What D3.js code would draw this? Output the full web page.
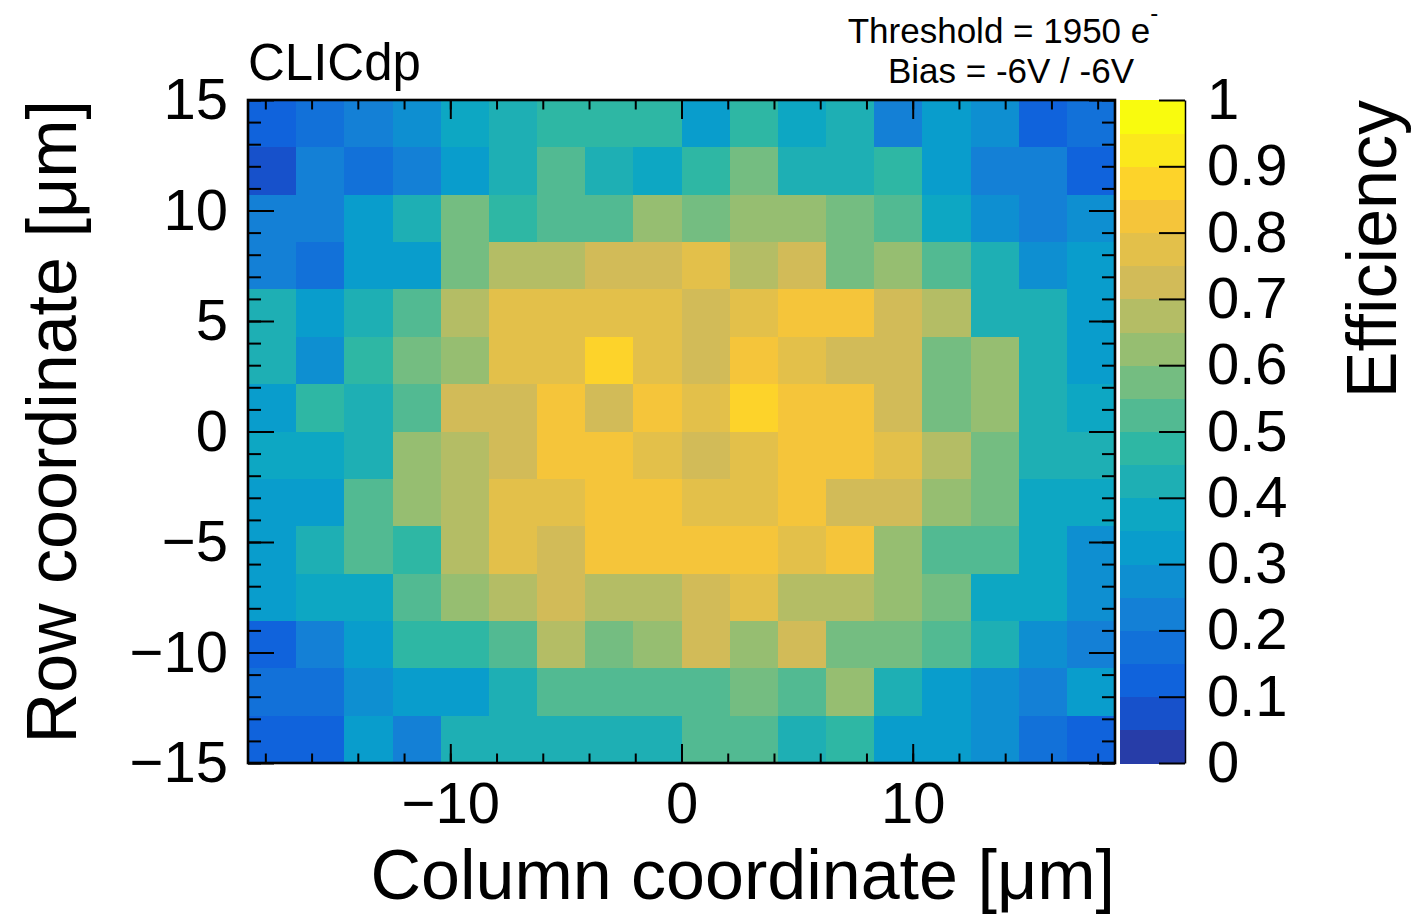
<!DOCTYPE html>
<html>
<head>
<meta charset="utf-8">
<script src="https://cdn.jsdelivr.net/npm/d3@7"></script>
<style>
  body { margin: 0; background: #fff; }
  text { font-family: "Liberation Sans", Arial, Helvetica, sans-serif; fill: #000; }
</style>
</head>
<body>
<svg id="chart" width="1411" height="915"></svg>
<script>
// Data
var colRange = [-18.75, 18.75];   // column coordinate [um], 18 bins
var rowRange = [-15, 15];         // row coordinate [um], 14 bins
var xTicks = [-10, 0, 10];
var xMinorTicks = [-18, -16, -14, -12, -10, -8, -6, -4, -2, 0, 2, 4, 6, 8, 10, 12, 14, 16, 18];
var yTicks = [-15, -10, -5, 0, 5, 10, 15];
var yMinorTicks = d3.range(-15, 16);
var zTicks = [0, 0.1, 0.2, 0.3, 0.4, 0.5, 0.6, 0.7, 0.8, 0.9, 1];
var zTickLabels = ["0", "0.1", "0.2", "0.3", "0.4", "0.5", "0.6", "0.7", "0.8", "0.9", "1"];
var nContours = 20;

// efficiency per pixel cell, top row (row = +15) first
var efficiency = [
  [.13, .18, .23, .28, .38, .43, .48, .48, .48, .33, .48, .38, .43, .23, .33, .28, .13, .18],
  [.08, .23, .18, .23, .33, .43, .53, .43, .38, .48, .58, .43, .43, .48, .33, .23, .23, .13],
  [.23, .23, .33, .43, .58, .48, .53, .53, .63, .58, .63, .63, .58, .53, .38, .28, .23, .28],
  [.23, .18, .33, .33, .58, .68, .68, .73, .73, .78, .68, .73, .58, .63, .53, .43, .28, .33],
  [.43, .33, .43, .53, .68, .78, .78, .78, .78, .73, .78, .83, .83, .73, .68, .43, .43, .33],
  [.43, .28, .48, .58, .63, .78, .78, .88, .78, .73, .83, .78, .73, .73, .58, .63, .43, .33],
  [.33, .48, .43, .53, .73, .73, .83, .73, .83, .78, .88, .83, .83, .73, .58, .63, .43, .38],
  [.38, .38, .43, .63, .68, .73, .83, .83, .78, .73, .78, .83, .83, .78, .68, .58, .43, .43],
  [.33, .33, .53, .63, .68, .78, .78, .83, .83, .78, .78, .83, .73, .73, .63, .58, .38, .38],
  [.33, .43, .53, .48, .68, .78, .73, .83, .83, .83, .83, .78, .83, .63, .53, .53, .38, .28],
  [.33, .38, .38, .53, .63, .68, .73, .68, .68, .73, .78, .68, .68, .63, .58, .38, .38, .28],
  [.13, .23, .33, .48, .48, .53, .68, .58, .63, .73, .63, .73, .58, .58, .53, .43, .28, .23],
  [.18, .18, .28, .33, .33, .43, .53, .53, .53, .53, .58, .53, .63, .43, .33, .28, .23, .33],
  [.13, .13, .33, .23, .43, .43, .43, .43, .43, .53, .53, .43, .48, .33, .33, .28, .18, .13]
];

// ROOT kBird palette stops
var birdStops = ["#352a87", "#0f5cdd", "#1481d6", "#06a4ca", "#2eb7a4", "#87bf77", "#d1bb59", "#fec832", "#f9fb0e"];

var svg = d3.select("#chart");
var plot = { left: 248, right: 1115, top: 100, bottom: 763 };

var x = d3.scaleLinear().domain(colRange).range([plot.left, plot.right]);
var y = d3.scaleLinear().domain(rowRange).range([plot.bottom, plot.top]);

var nCols = efficiency[0].length, nRows = efficiency.length;
var colBand = d3.scaleBand().domain(d3.range(nCols)).range([plot.left, plot.right]);
var rowBand = d3.scaleBand().domain(d3.range(nRows)).range([plot.top, plot.bottom]);

// palette: 20 contour colours picked the way ROOT does from 255 gradient colours
var bird = d3.piecewise(d3.interpolateRgb, birdStops);
var contourColors = d3.range(nContours).map(function (i) {
  return bird(Math.floor((i + 0.99) * 255 / nContours) / 254);
});
var color = d3.scaleQuantize().domain([0, 1]).range(contourColors);

// Cells
var cells = [];
efficiency.forEach(function (row, r) {
  row.forEach(function (v, c) { cells.push({ r: r, c: c, v: v }); });
});
svg.append("g").attr("shape-rendering", "crispEdges")
  .selectAll("rect").data(cells).enter().append("rect")
  .attr("x", function (d) { return colBand(d.c); })
  .attr("y", function (d) { return rowBand(d.r); })
  .attr("width", colBand.bandwidth() + 0.6)
  .attr("height", rowBand.bandwidth() + 0.6)
  .attr("fill", function (d) { return color(d.v); });

// Axes
function ticks(axis, size, values, labels) {
  return axis.tickValues(values).tickSizeInner(-size).tickSizeOuter(0)
    .tickFormat(labels ? labels : function () { return ""; });
}
function styleAxis(g, fontSize) {
  g.select(".domain").remove();
  g.selectAll(".tick line").attr("stroke", "#000").attr("stroke-width", 2);
  g.selectAll("text").attr("font-size", fontSize).attr("fill", "#000")
    .attr("font-family", "Liberation Sans, Arial, sans-serif");
}
var labelSize = 58;
var fmt = function (d) { return d < 0 ? "\u2212" + Math.abs(d) : "" + d; };

svg.append("g").attr("transform", "translate(0," + plot.bottom + ")")
  .call(ticks(d3.axisBottom(x), 9.5, xMinorTicks)).call(styleAxis, labelSize);
svg.append("g").attr("transform", "translate(0," + plot.bottom + ")")
  .call(ticks(d3.axisBottom(x), 19, xTicks, fmt).tickPadding(19)).call(styleAxis, labelSize);
svg.append("g").attr("transform", "translate(0," + plot.top + ")")
  .call(ticks(d3.axisTop(x), 9.5, xMinorTicks)).call(styleAxis, labelSize);
svg.append("g").attr("transform", "translate(0," + plot.top + ")")
  .call(ticks(d3.axisTop(x), 19, xTicks)).call(styleAxis, labelSize);

svg.append("g").attr("transform", "translate(" + plot.left + ",0)")
  .call(ticks(d3.axisLeft(y), 13, yMinorTicks)).call(styleAxis, labelSize);
svg.append("g").attr("transform", "translate(" + plot.left + ",0)")
  .call(ticks(d3.axisLeft(y), 26, yTicks, fmt).tickPadding(20)).call(styleAxis, labelSize);
svg.append("g").attr("transform", "translate(" + plot.right + ",0)")
  .call(ticks(d3.axisRight(y), 13, yMinorTicks)).call(styleAxis, labelSize);
svg.append("g").attr("transform", "translate(" + plot.right + ",0)")
  .call(ticks(d3.axisRight(y), 26, yTicks)).call(styleAxis, labelSize);

// Frame
svg.append("rect")
  .attr("x", plot.left).attr("y", plot.top)
  .attr("width", plot.right - plot.left).attr("height", plot.bottom - plot.top)
  .attr("fill", "none").attr("stroke", "#000").attr("stroke-width", 2.6);

// Colour bar
var bar = { left: 1120, right: 1185 };
var z = d3.scaleLinear().domain([0, 1]).range([plot.bottom, plot.top]);
var levels = d3.range(nContours).map(function (i) { return i / nContours; });
svg.append("g").attr("shape-rendering", "crispEdges")
  .selectAll("rect").data(levels).enter().append("rect")
  .attr("x", bar.left)
  .attr("width", bar.right - bar.left)
  .attr("y", function (d) { return z(d + 1 / nContours); })
  .attr("height", function (d) { return z(d) - z(d + 1 / nContours) + 0.5; })
  .attr("fill", function (d, i) { return contourColors[i]; });

var zAxis = svg.append("g").attr("transform", "translate(" + bar.right + ",0)")
  .call(d3.axisRight(z).tickValues(zTicks).tickSizeInner(-26).tickSizeOuter(0)
    .tickPadding(22).tickFormat(function (d, i) { return zTickLabels[i]; }));
zAxis.select(".domain").attr("stroke", "#000").attr("stroke-width", 1.5);
zAxis.selectAll(".tick line").attr("stroke", "#000").attr("stroke-width", 2);
zAxis.selectAll("text").attr("font-size", labelSize).attr("fill", "#000")
  .attr("font-family", "Liberation Sans, Arial, sans-serif");

// Titles
var titleSize = 70;
svg.append("text")
  .attr("x", plot.right).attr("y", 899)
  .attr("text-anchor", "end").attr("font-size", titleSize)
  .text("Column coordinate [\u03bcm]");
svg.append("text")
  .attr("transform", "translate(76," + plot.top + ") rotate(-90)")
  .attr("text-anchor", "end").attr("font-size", titleSize)
  .text("Row coordinate [\u03bcm]");
svg.append("text")
  .attr("transform", "translate(1396," + plot.top + ") rotate(-90)")
  .attr("text-anchor", "end").attr("font-size", titleSize)
  .text("Efficiency");

// Labels
svg.append("text")
  .attr("x", plot.left).attr("y", 80)
  .attr("font-size", 51)
  .text("CLICdp");
var thr = svg.append("text")
  .attr("x", 1003).attr("y", 43)
  .attr("text-anchor", "middle").attr("font-size", 35);
thr.append("tspan").text("Threshold = 1950 e");
thr.append("tspan").attr("font-size", 24).attr("dy", -22).text("-");
svg.append("text")
  .attr("x", 1011).attr("y", 83)
  .attr("text-anchor", "middle").attr("font-size", 35)
  .text("Bias = -6V / -6V");
</script>
</body>
</html>
